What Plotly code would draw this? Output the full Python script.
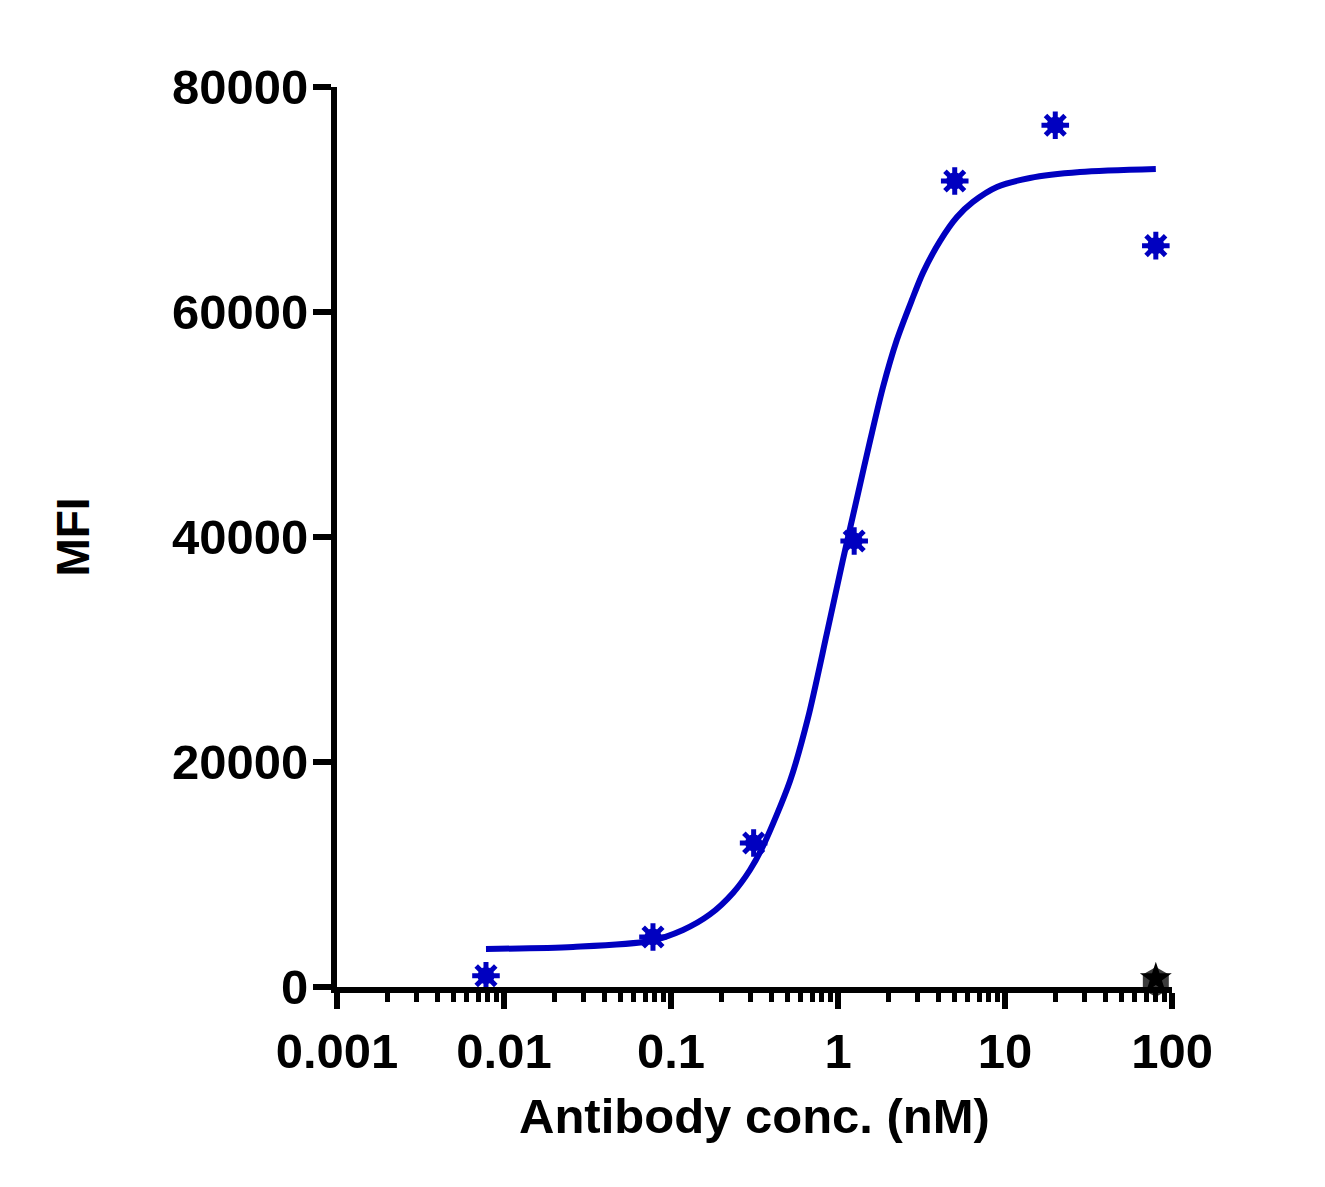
import plotly.graph_objects as go

# measured points (antibody dilution series)
conc = [0.0078, 0.078, 0.3125, 1.25, 5, 20, 80]
mfi = [1000, 4450, 12800, 39650, 71650, 76600, 65900]

# control wells at top concentration
ctrl_conc = [80]
ctrl_gray = [450]
ctrl_black = [750]

# fitted curve
fit_conc = [0.0078, 0.0259, 0.0748, 0.118, 0.171, 0.235, 0.297, 0.356, 0.516,
            0.661, 0.859, 1.07, 1.32, 1.56, 1.86, 2.25, 2.77, 3.23, 4.08,
            5.16, 6.43, 8.95, 14.1, 28.1, 80]
fit_mfi = [3380, 3560, 4090, 5070, 6450, 8360, 10400, 12530, 18310,
           23910, 31470, 37960, 43910, 48620, 53330, 57510, 61070, 63500,
           66300, 68440, 69780, 71110, 71910, 72440, 72710]

BLUE = "#0000C0"
FONT = "Liberation Sans, Arial, sans-serif"

minor_vals = [m * 10 ** e for e in range(-3, 2) for m in range(2, 10)]

fig = go.Figure()

fig.add_trace(go.Scatter(
    x=fit_conc, y=fit_mfi, mode="lines",
    line=dict(color=BLUE, width=6, shape="spline", smoothing=0.8),
    hoverinfo="skip", showlegend=False,
))

# star-burst markers: filled disc + thick asterisk
fig.add_trace(go.Scatter(
    x=conc, y=mfi, mode="markers",
    marker=dict(symbol="circle", size=17, color=BLUE),
    showlegend=False,
))
fig.add_trace(go.Scatter(
    x=conc, y=mfi, mode="markers",
    marker=dict(symbol="asterisk-open", size=23, color=BLUE,
                line=dict(color=BLUE, width=5)),
    showlegend=False,
))

fig.add_trace(go.Scatter(
    x=ctrl_conc, y=ctrl_gray, mode="markers",
    marker=dict(symbol="hexagon", size=30, color="#3c3c3c"),
    showlegend=False, cliponaxis=False,
))
fig.add_trace(go.Scatter(
    x=ctrl_conc, y=ctrl_black, mode="markers",
    marker=dict(symbol="star", size=24, color="#000000"),
    showlegend=False, cliponaxis=False,
))

fig.update_layout(
    width=1325, height=1187,
    margin=dict(l=329, r=161, t=79, b=208),
    paper_bgcolor="white", plot_bgcolor="white",
    font=dict(family=FONT, size=49, color="black", weight="bold"),
    xaxis=dict(
        type="log", range=[-3, 2],
        tickvals=[0.001, 0.01, 0.1, 1, 10, 100],
        ticktext=["0.001", "0.01", "0.1", "1", "10", "100"],
        ticks="outside", ticklen=16, tickwidth=6, tickcolor="black",
        minor=dict(tickvals=minor_vals, ticks="outside", ticklen=9,
                   tickwidth=5, tickcolor="black"),
        showline=True, linewidth=6, linecolor="black",
        showgrid=False, zeroline=False,
        tickfont=dict(family=FONT, size=49, weight="bold"),
        title=dict(text="Antibody conc. (nM)", standoff=24,
                   font=dict(family=FONT, size=49, weight="bold")),
    ),
    yaxis=dict(
        range=[0, 80000],
        tickvals=[0, 20000, 40000, 60000, 80000],
        ticktext=["0", "20000", "40000", "60000", "80000"],
        ticks="outside", ticklen=18, tickwidth=6, tickcolor="black",
        ticklabelstandoff=-5,
        showline=True, linewidth=6, linecolor="black",
        showgrid=False, zeroline=False,
        tickfont=dict(family=FONT, size=49, weight="bold"),
        title=dict(text="MFI", standoff=70,
                   font=dict(family=FONT, size=46, weight="bold")),
    ),
)

fig.write_html("out.html")
